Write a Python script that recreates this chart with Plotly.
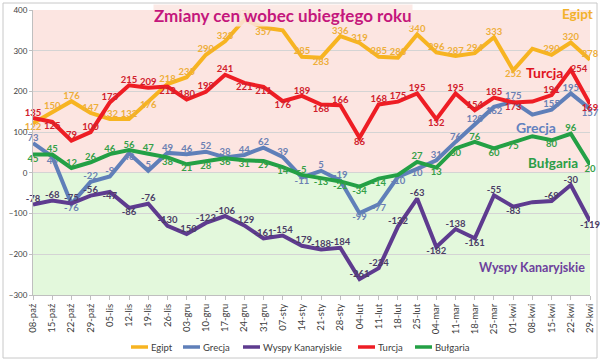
import plotly.graph_objects as go

weeks = ["08-paź","15-paź","22-paź","29-paź","05-lis","12-lis","19-lis","26-lis","03-gru","10-gru",
         "17-gru","24-gru","31-gru","07-sty","14-sty","21-sty","28-sty","04-lut","11-lut","18-lut",
         "25-lut","04-mar","11-mar","18-mar","25-mar","01-kwi","08-kwi","15-kwi","22-kwi","29-kwi"]

egipt = [122,150,176,147,132,132,176,218,235,290,323,376,357,350,285,283,336,319,285,283,
         340,296,287,294,333,252,305,290,320,278]
grecja = [73,40,-76,-22,-9,48,5,49,46,52,38,44,62,39,-11,5,-19,-99,-77,-10,
          10,31,76,120,162,175,143,155,195,157]
wyspy = [-78,-68,-75,-56,-47,-86,-76,-130,-150,-123,-106,-129,-161,-154,-179,-188,-184,-261,-234,-132,
         -63,-182,-138,-161,-55,-83,-72,-69,-30,-119]
turcja = [135,125,79,100,173,215,209,212,180,199,241,221,211,176,189,168,166,86,168,175,
          195,132,195,154,185,173,175,191,254,169]
bulgaria = [45,45,12,26,46,56,47,38,21,28,36,31,29,14,-5,-13,-21,-34,-14,-5,
            27,13,60,76,60,75,90,80,96,20]

# points without a visible data label in the reference
hidden = {"Egipt": [13, 26], "Grecja": [26], "Wyspy Kanaryjskie": [26], "Turcja": [26], "Bułgaria": [19, 26]}

T, B = "top center", "bottom center"
pos_egipt = [B,T,T,T,T,T,B,T,T,T,T,T,B,T,T,B,T,T,T,T,T,T,T,T,T,B,T,T,T,T]
pos_turcja = [T,B,T,T,T,T,T,B,T,T,T,B,B,B,T,B,T,B,T,T,T,B,T,T,T,B,T,T,"middle right",B]
pos_grecja = [T,B,B,T,T,B,T,T,T,T,T,T,T,T,B,T,T,B,B,B,B,T,T,T,B,T,T,T,T,B]
pos_bulg = [B,T,T,T,T,T,T,B,B,B,B,B,B,B,T,B,B,B,B,B,T,B,B,T,B,B,B,B,T,B]
pos_wyspy = [T,T,T,T,B,B,T,T,T,T,T,T,T,T,T,T,T,T,T,T,T,B,T,B,T,B,T,T,T,B]

series = [
    ("Egipt", egipt, "#f7b421", "#eeae3a", pos_egipt),
    ("Grecja", grecja, "#5f7fb9", "#6b80b3", pos_grecja),
    ("Wyspy Kanaryjskie", wyspy, "#5e3b8f", "#4b3d66", pos_wyspy),
    ("Turcja", turcja, "#ee1d24", "#d0202c", pos_turcja),
    ("Bułgaria", bulgaria, "#23a045", "#35a048", pos_bulg),
]

# plot-area pixel geometry (for paper-coordinate conversions)
PL, PW, PT, PH = 33, 557, 10, 285
def px(x):
    return (x - PL) / PW
def py(y):
    return (PT + PH - y) / PH

fig = go.Figure()

for name, vals, col, tcol, pos in series:
    txt = ["" if i in hidden[name] else str(v) for i, v in enumerate(vals)]
    fig.add_trace(go.Scatter(
        x=weeks, y=vals, name=name, mode="lines+text",
        line=dict(color=col, width=4),
        text=txt, textposition=pos,
        textfont=dict(family="Lato", size=9.5, color=tcol, weight="bold"),
        cliponaxis=False, showlegend=False,
    ))

fig.add_shape(type="rect", xref="paper", yref="y", x0=0, x1=1, y0=0, y1=400,
              fillcolor="#fce5e1", line_width=0, layer="below")
fig.add_shape(type="rect", xref="paper", yref="y", x0=-0.0005, x1=1, y0=-300, y1=0,
              fillcolor="#e3f8dc", line_width=0, layer="below")
fig.add_shape(type="rect", xref="paper", yref="paper", x0=px(3), x1=px(597), y0=py(358), y1=py(3),
              line=dict(color="#c8c8c8", width=1), fillcolor="rgba(0,0,0,0)", layer="below")

fig.add_annotation(text="<b>Zmiany cen wobec ubiegłego roku</b>", xref="paper", yref="paper",
                   x=px(283), y=py(15), xanchor="center", yanchor="middle", showarrow=False,
                   font=dict(family="Lato", size=17, color="#c4177c"),
                   bgcolor="rgba(252,229,225,0.85)", borderpad=0)

labels = [
    ("Egipt", 577, 14, "#f2b12b", 13.5),
    ("Turcja", 544, 72, "#e0141f", 14),
    ("Grecja", 536, 127, "#6381bf", 14),
    ("Bułgaria", 553, 163, "#2a9e47", 13.5),
    ("Wyspy Kanaryjskie", 532, 267, "#6d419c", 12.5),
]
for t, x, y, c, s in labels:
    fig.add_annotation(text="<b>%s</b>" % t, xref="paper", yref="paper", x=px(x), y=py(y),
                       xanchor="center", yanchor="middle", showarrow=False,
                       font=dict(family="Lato", size=s, color=c))

# legend drawn manually to match the compact original layout
legend_items = [("Egipt", "#f7b421", 131), ("Grecja", "#5f7fb9", 183),
                ("Wyspy Kanaryjskie", "#5e3b8f", 243), ("Turcja", "#ee1d24", 358),
                ("Bułgaria", "#23a045", 415)]
LY = 347
for t, c, x0 in legend_items:
    fig.add_shape(type="line", xref="paper", yref="paper", x0=px(x0), x1=px(x0 + 17),
                  y0=py(LY), y1=py(LY), line=dict(color=c, width=3.5))
    fig.add_annotation(text=t, xref="paper", yref="paper", x=px(x0 + 18), y=py(LY),
                       xanchor="left", yanchor="middle", showarrow=False,
                       font=dict(family="Lato", size=9.5, color="#404040"))

fig.update_layout(
    width=600, height=362,
    margin=dict(l=33, r=10, t=10, b=67, autoexpand=False),
    paper_bgcolor="white", plot_bgcolor="rgba(0,0,0,0)",
    showlegend=False,
    xaxis=dict(type="category", range=[0, 29], tickangle=-90, automargin=False,
               tickfont=dict(family="Lato", size=9.5, color="#404040"),
               showgrid=False, showline=True, linecolor="#bfbfbf",
               ticks="outside", ticklen=4, tickcolor="#bfbfbf"),
    yaxis=dict(range=[-300, 400], dtick=100, automargin=False,
               tickfont=dict(family="Lato", size=8, color="#404040"),
               showgrid=True, gridcolor="#d4d4d4", gridwidth=1, zeroline=False,
               showline=True, linecolor="#bfbfbf", ticks="outside", ticklen=3, tickcolor="#bfbfbf"),
)

fig.write_html("out.html", config={"displayModeBar": False},
               post_script="document.body.style.margin='0';document.body.style.overflow='hidden';")
